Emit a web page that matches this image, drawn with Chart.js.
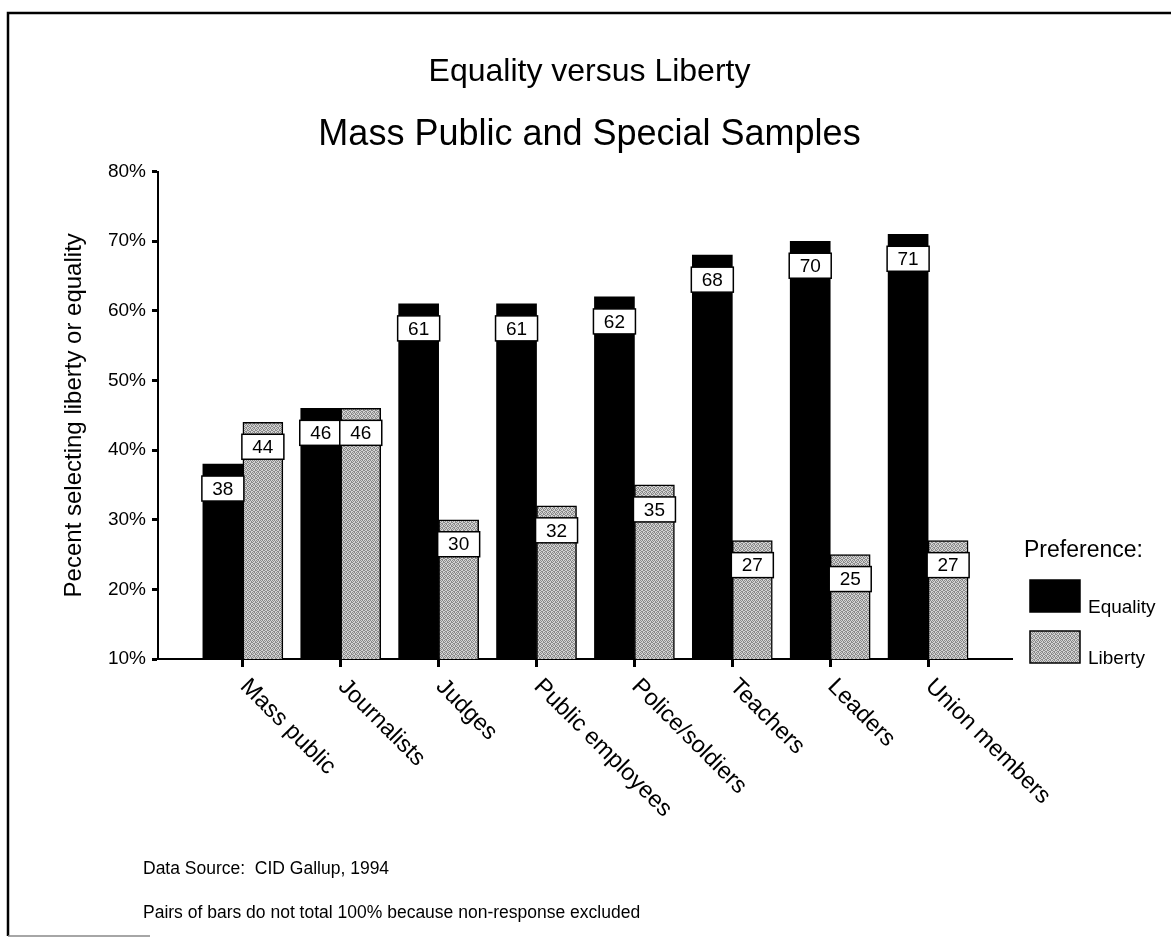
<!DOCTYPE html>
<html>
<head>
<meta charset="utf-8">
<script src="https://cdn.jsdelivr.net/npm/chart.js@4.4.1/dist/chart.umd.min.js"></script>
<style>
  html, body { margin: 0; padding: 0; background: #fff; }
  #wrap { position: relative; width: 1171px; height: 942px; }
</style>
</head>
<body>
<div id="wrap"><canvas id="equality-chart"></canvas></div>
<script>
const categories = ["Mass public", "Journalists", "Judges", "Public employees", "Police/soldiers", "Teachers", "Leaders", "Union members"];
const equality = [38, 46, 61, 61, 62, 68, 70, 71];
const liberty = [44, 46, 30, 32, 35, 27, 25, 27];
const yTicks = [10, 20, 30, 40, 50, 60, 70, 80];
const notes = ["Data Source:  CID Gallup, 1994", "Pairs of bars do not total 100% because non-response excluded"];

const FONT = "'Liberation Sans', Arial, Helvetica, sans-serif";

// stippled grey fill for the liberty bars
function stipple(){
    const c = document.createElement("canvas");
    c.width = 4; c.height = 4;
    const g = c.getContext("2d");
    g.fillStyle = "#d4d4d4";
    g.fillRect(0, 0, 4, 4);
    g.fillStyle = "#8a8a8a";
    [[0,0],[2,0],[1,1],[3,2],[0,2],[2,3],[1,3],[3,1]].forEach(function(p){
        g.fillRect(p[0], p[1], 1, 1);
    });
    return g.createPattern(c, "repeat");
}
const libertyFill = stipple();

function points(values){
    return values.map(function(v, i){ return {x: i + 1, y: v}; });
}

// frame, value boxes, rotated category labels, legend and notes
const decorations = {
    id: "decorations",
    afterDatasetsDraw(chart){
        const ctx = chart.ctx;
        ctx.save();
        ctx.font = "19px " + FONT;
        ctx.textAlign = "center";
        ctx.textBaseline = "middle";
        chart.data.datasets.forEach(function(ds, di){
            chart.getDatasetMeta(di).data.forEach(function(bar, i){
                const left = bar.x - bar.width / 2 - 1;
                const top = bar.y + 12;
                const w = bar.width + 2, h = 25;
                ctx.fillStyle = "#fff";
                ctx.fillRect(left, top, w, h);
                ctx.strokeStyle = "#000";
                ctx.lineWidth = 1.5;
                ctx.strokeRect(left, top, w, h);
                ctx.fillStyle = "#000";
                ctx.fillText(String(ds.data[i].y), bar.x, top + h / 2 + 1);
            });
        });
        ctx.restore();
    },
    afterDraw(chart){
        const ctx = chart.ctx;
        const area = chart.chartArea;
        const xs = chart.scales.x;
        ctx.save();

        // page frame
        ctx.strokeStyle = "#000";
        ctx.lineWidth = 2.5;
        ctx.beginPath();
        ctx.moveTo(8, 936);
        ctx.lineTo(8, 13);
        ctx.lineTo(1171, 13);
        ctx.stroke();
        ctx.strokeStyle = "#888";
        ctx.lineWidth = 1.5;
        ctx.beginPath();
        ctx.moveTo(8, 936);
        ctx.lineTo(150, 936);
        ctx.stroke();

        // category labels, slanted down to the right
        ctx.fillStyle = "#000";
        ctx.font = "23.5px " + FONT;
        ctx.textAlign = "left";
        ctx.textBaseline = "middle";
        categories.forEach(function(name, i){
            const px = xs.getPixelForValue(i + 1);
            ctx.save();
            ctx.translate(px + 1, area.bottom + 24);
            ctx.rotate(Math.PI / 4);
            ctx.fillText(name, 0, 0);
            ctx.restore();
        });

        // legend
        const lx = area.right + 18;
        ctx.textBaseline = "alphabetic";
        ctx.font = "23px " + FONT;
        ctx.fillText("Preference:", lx - 6, 557);
        ctx.font = "19px " + FONT;
        chart.data.datasets.forEach(function(ds, di){
            const top = 580 + di * 51;
            ctx.fillStyle = ds.backgroundColor;
            ctx.fillRect(lx, top, 50, 32);
            ctx.strokeStyle = "#000";
            ctx.lineWidth = 1.5;
            ctx.strokeRect(lx, top, 50, 32);
            ctx.fillStyle = "#000";
            ctx.fillText(ds.label, lx + 58, top + 33);
        });

        // notes under the chart
        ctx.font = "17.5px " + FONT;
        notes.forEach(function(t, i){
            ctx.fillText(t, 143, 874 + i * 44);
        });
        ctx.restore();
    }
};

Chart.defaults.font.family = FONT;
Chart.defaults.color = "#000";

new Chart(document.getElementById("equality-chart"), {
    type: "bar",
    data: {
        datasets: [
            {
                label: "Equality",
                data: points(equality),
                backgroundColor: "#000",
                borderWidth: 0,
                barThickness: 40,
            },
            {
                label: "Liberty",
                data: points(liberty),
                backgroundColor: libertyFill,
                borderColor: "#000",
                borderWidth: 1.5,
                borderSkipped: false,
                barThickness: 40,
            },
        ],
    },
    options: {
        responsive: true,
        maintainAspectRatio: false,
        animation: false,
        events: [],
        layout: {
            padding: {top: 0, left: 8, right: 0, bottom: 263},
        },
        plugins: {
            legend: {display: false},
            tooltip: {enabled: false},
            title: {
                display: true,
                text: "Equality versus Liberty",
                font: {size: 32, weight: "normal", lineHeight: 1.2},
                padding: {top: 53, bottom: 0},
                color: "#000",
            },
            subtitle: {
                display: true,
                text: "Mass Public and Special Samples",
                font: {size: 36, weight: "normal", lineHeight: 1.2},
                padding: {top: 22, bottom: 15},
                color: "#000",
            },
        },
        scales: {
            x: {
                type: "linear",
                offset: false,
                min: 0.133,
                max: 8.857,
                afterBuildTicks: function(scale){
                    scale.ticks = categories.map(function(c, i){ return {value: i + 1}; });
                },
                afterFit: function(scale){ scale.height = 20; },
                ticks: {display: false},
                grid: {
                    offset: false,
                    drawOnChartArea: false,
                    drawTicks: true,
                    tickLength: 8,
                    tickWidth: 3,
                    tickColor: "#000",
                },
                border: {display: true, color: "#000", width: 2},
            },
            y: {
                min: 10,
                max: 80,
                afterBuildTicks: function(scale){
                    scale.ticks = yTicks.map(function(v){ return {value: v}; });
                },
                afterFit: function(scale){ scale.width = 150; },
                ticks: {
                    padding: 6,
                    font: {size: 19},
                    color: "#000",
                    callback: function(value){ return value + "%"; },
                },
                grid: {
                    drawOnChartArea: false,
                    tickLength: 6,
                    tickWidth: 3,
                    tickColor: "#000",
                },
                border: {display: true, color: "#000", width: 2},
                title: {
                    display: true,
                    text: "Pecent selecting liberty or equality",
                    font: {size: 24},
                    color: "#000",
                    padding: {top: 52, bottom: 0},
                },
            },
            // empty column on the right that holds the legend
            legendSpace: {
                position: "right",
                afterFit: function(scale){ scale.width = 159; },
                ticks: {display: false},
                grid: {display: false},
                border: {display: false},
            },
        },
    },
    plugins: [decorations],
});
</script>
</body>
</html>
